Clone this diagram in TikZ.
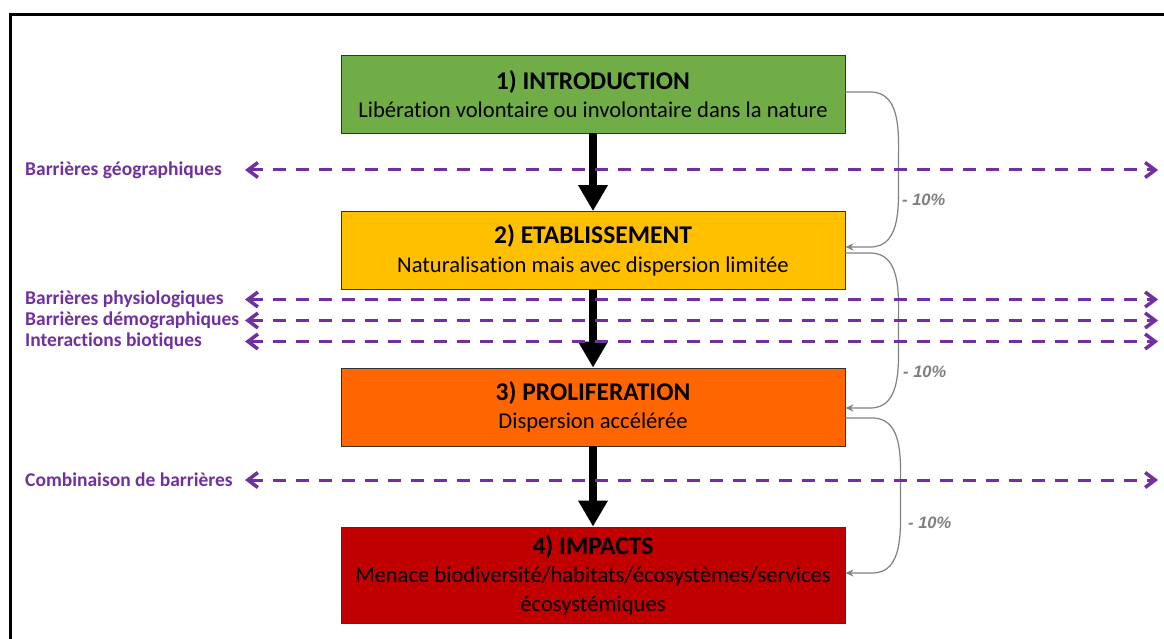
\documentclass[tikz,border=0pt]{standalone}
\usepackage{fontspec}
\setmainfont{Carlito}[Ligatures=NoCommon]
\newfontfamily\arialf{Liberation Sans}
\usetikzlibrary{arrows.meta}
\definecolor{cgreen}{HTML}{70AD47}
\definecolor{cyellow}{HTML}{FFC000}
\definecolor{corange}{HTML}{FF6600}
\definecolor{cred}{HTML}{C00000}
\definecolor{cpurple}{HTML}{7030A0}
\definecolor{lossgray}{HTML}{808080}
\definecolor{pctgray}{HTML}{7F7F7F}
\begin{document}
\begin{tikzpicture}[x=1pt,y=-1pt,
  stage/.style={draw=black!80, line width=0.8pt, minimum width=504pt, minimum height=78pt,
    align=center, inner sep=0pt, font=\fontsize{22.6}{28.5}\selectfont},
  flow/.style={line width=8pt, -{Triangle[length=26pt,width=28pt]}},
  loss/.style={draw=lossgray, line width=1.2pt, -{Stealth[length=8pt,width=7pt]}},
  barrier/.style={draw=cpurple, line width=3pt, dash pattern=on 13pt off 10pt,
    {Straight Barb[length=10pt,width=15pt,line width=3.5pt]}-{Straight Barb[length=10pt,width=15pt,line width=3.5pt]}},
  blabel/.style={anchor=west, text=cpurple, font=\fontsize{19.5}{21}\selectfont\bfseries, inner sep=0pt},
  pct/.style={anchor=west, text=pctgray, font=\arialf\fontsize{16.5}{18}\selectfont\bfseries\itshape, inner sep=0pt}]
\newcommand{\ttl}[1]{{\fontsize{25.5}{28.5}\selectfont\bfseries #1}}
\useasboundingbox (0,0) rectangle (1164,639);
\fill[white] (0,0) rectangle (1164,639);
% frame
\draw[line width=3.5pt] (10.5,639) -- (10.5,14.5) -- (1164,14.5);

% stages
\node[stage, fill=cgreen] (b1) at (593,94) {\ttl{1) INTRODUCTION}\\Libération volontaire ou involontaire dans la nature};
\node[stage, fill=cyellow] (b2) at (593,250.5) {\ttl{2) ETABLISSEMENT}\\Naturalisation mais avec dispersion limitée};
\node[stage, fill=corange] (b3) at (593,407) {\ttl{3) PROLIFERATION}\\Dispersion accélérée};
\node[stage, fill=cred, minimum height=96pt] (b4) at (593,575) {\ttl{4) IMPACTS}\\Menace biodiversité/habitats/écosystèmes/services\\écosystémiques};

% main flow
\draw[flow] (b1.south) -- (b2.north);
\draw[flow] (b2.south) -- (b3.north);
\draw[flow] (b3.south) -- (b4.north);

% losses
\draw[loss] ([yshift=2pt]b1.east) -- ++(25,0) to[out=0,in=90] ++(28,78) to[out=-90,in=0] ++(-28,77) -- ([yshift=3.5pt]b2.east);
\draw[loss] ([yshift=-2.5pt]b2.east) -- ++(25,0) to[out=0,in=90] ++(28,78) to[out=-90,in=0] ++(-28,77) -- ([yshift=-1pt]b3.east);
\draw[loss] ([yshift=-11pt]b3.east) -- ++(27,0) to[out=0,in=90] ++(28,78) to[out=-90,in=0] ++(-28,77) -- ([yshift=2pt]b4.east);
\node[pct] (p1) at (902,200) {- 10\%};
\node[pct] (p2) at (903,372) {- 10\%};
\node[pct] (p3) at (908,523) {- 10\%};

% barriers
\node[blabel] (l1) at (25,170) {Barrières géographiques};
\node[blabel] (l2) at (25,299.5) {Barrières physiologiques};
\node[blabel] (l3) at (25,320.5) {Barrières démographiques};
\node[blabel] (l4) at (25,341.5) {Interactions biotiques};
\node[blabel] (l5) at (25,480) {Combinaison de barrières};
\coordinate (a1L) at (245,170);   \coordinate (a1R) at (1158,170);
\coordinate (a2L) at (245,299.5); \coordinate (a2R) at (1158,299.5);
\coordinate (a3L) at (245,320.5); \coordinate (a3R) at (1158,320.5);
\coordinate (a4L) at (245,341.5); \coordinate (a4R) at (1158,341.5);
\coordinate (a5L) at (245,480);   \coordinate (a5R) at (1158,480);
\draw[barrier] (a1L) -- (a1R);
\draw[barrier] (a2L) -- (a2R);
\draw[barrier] (a3L) -- (a3R);
\draw[barrier] (a4L) -- (a4R);
\draw[barrier] (a5L) -- (a5R);
\end{tikzpicture}
\end{document}
